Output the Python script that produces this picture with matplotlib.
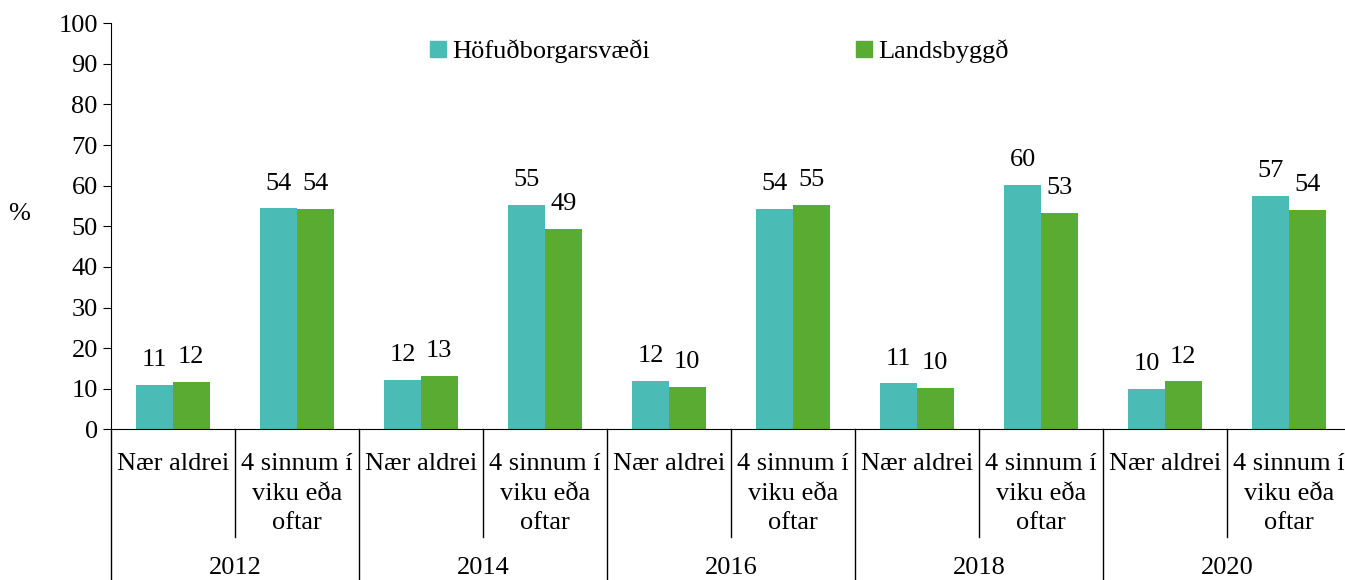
import numpy as np
import matplotlib
matplotlib.use("Agg")
import matplotlib.pyplot as plt
import matplotlib.transforms as mtransforms
from matplotlib.patches import Patch

plt.rcParams['font.family'] = ['Liberation Serif', 'DejaVu Serif']

years = ['2012', '2014', '2016', '2018', '2020']
cats = ['Nær aldrei', '4 sinnum í\nviku eða\noftar']
series = ['Höfuðborgarsvæði', 'Landsbyggð']
hofud = [10.9, 54.4, 12.2, 55.2, 11.9, 54.3, 11.3, 60.2, 9.9, 57.4]
lands = [11.7, 54.2, 13.2, 49.3, 10.4, 55.2, 10.2, 53.3, 11.8, 54.0]
colors = ['#4BBBB6', '#5AAB32']
fs = 19

fig = plt.figure(figsize=(13.45, 5.8), dpi=100)
ax = fig.add_axes([111 / 1345, 150.7 / 580, 1240 / 1345, 406 / 580])

n = len(hofud)
x = np.arange(n) + 0.5
w = 0.295
b1 = ax.bar(x - w / 2, hofud, w, color=colors[0])
b2 = ax.bar(x + w / 2, lands, w, color=colors[1])

for bars, vals in ((b1, hofud), (b2, lands)):
    for rect, v in zip(bars, vals):
        ax.annotate(f"{v:.0f}", (rect.get_x() + rect.get_width() / 2, v),
                    xytext=(0, 10), textcoords='offset points',
                    ha='center', va='bottom', fontsize=fs)

ax.set_xlim(0, n)
ax.set_ylim(0, 100)
ax.set_yticks(range(0, 101, 10))
ax.tick_params(axis='y', labelsize=fs, length=6, direction='out')
ax.set_xticks([])
for s in ('top', 'right'):
    ax.spines[s].set_visible(False)

ax.text(-0.074, 0.53, '%', transform=ax.transAxes, fontsize=fs,
        ha='center', va='center')

# two-level category axis: separators between sub-categories and years
trans = mtransforms.blended_transform_factory(ax.transData, ax.transAxes)
for i in range(n + 1):
    y_end = -0.372 if i % 2 == 0 else -0.266
    ax.plot([i, i], [0, y_end], color='black', lw=1.0,
            transform=trans, clip_on=False)

for i in range(n):
    ax.annotate(cats[i % 2], (i + 0.5, 0), xytext=(0, -17),
                textcoords='offset points', ha='center', va='top',
                fontsize=fs, linespacing=1.45)

for j, yr in enumerate(years):
    ax.annotate(yr, (2 * j + 1, 0), xytext=(0, -100),
                textcoords='offset points', ha='center', va='center',
                fontsize=fs)

handles = [Patch(color=c) for c in colors]
ax.legend(handles, series, loc='upper left', bbox_to_anchor=(0.257, 0.96),
          ncol=2, frameon=False, fontsize=fs, handlelength=0.6,
          handleheight=0.6, handletextpad=0.25, columnspacing=7.8,
          borderpad=0, borderaxespad=0)

fig.savefig('out.png', dpi=100)
